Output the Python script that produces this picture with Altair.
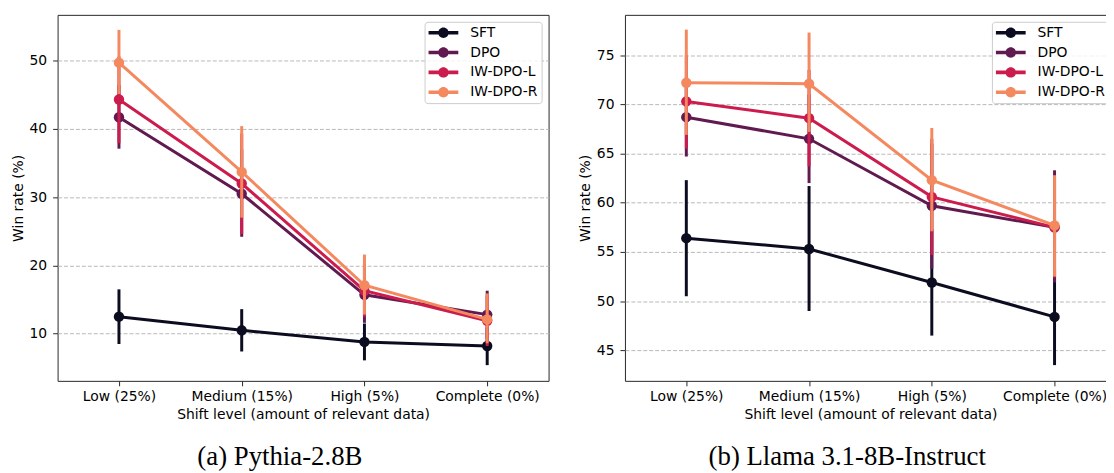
import altair as alt
import pandas as pd

categories = ["Low (25%)", "Medium (15%)", "High (5%)", "Complete (0%)"]
series = ["SFT", "DPO", "IW-DPO-L", "IW-DPO-R"]
colors = ["#0b0c20", "#611a4f", "#cc1c4e", "#f4895f"]

# (a) Pythia-2.8B : mean win rate and error bar ends
py_sft = [12.5, 10.5, 8.8, 8.2]
py_sft_lo = [8.5, 7.4, 6.1, 5.4]
py_sft_hi = [16.5, 13.6, 11.5, 10.9]
py_dpo = [41.7, 30.5, 15.7, 12.8]
py_dpo_lo = [37.1, 24.2, 11.6, 9.3]
py_dpo_hi = [46.4, 37.0, 19.8, 16.3]
py_l = [44.3, 32.0, 16.3, 11.9]
py_l_lo = [37.9, 24.6, 12.5, 8.2]
py_l_hi = [50.6, 39.3, 20.3, 15.6]
py_r = [49.7, 33.7, 17.1, 12.1]
py_r_lo = [45.1, 27.0, 12.8, 8.6]
py_r_hi = [54.5, 40.4, 21.6, 15.9]

# (b) Llama 3.1-8B-Instruct
ll_sft = [56.4, 55.3, 51.9, 48.4]
ll_sft_lo = [50.5, 49.0, 46.5, 43.5]
ll_sft_hi = [62.3, 61.7, 57.3, 53.3]
ll_dpo = [68.7, 66.5, 59.7, 57.5]
ll_dpo_lo = [64.7, 62.0, 53.3, 51.9]
ll_dpo_hi = [72.7, 71.0, 66.0, 63.3]
ll_l = [70.3, 68.6, 60.6, 57.5]
ll_l_lo = [65.5, 63.7, 54.7, 52.4]
ll_l_hi = [75.0, 73.5, 66.5, 62.6]
ll_r = [72.2, 72.1, 62.3, 57.7]
ll_r_lo = [66.9, 67.2, 57.1, 52.5]
ll_r_hi = [77.6, 77.3, 67.6, 62.8]

py_ticks = [10, 20, 30, 40, 50]
ll_ticks = [45, 50, 55, 60, 65, 70, 75]


def build_df(means, los, his):
    rows = []
    for s, m, lo, hi in zip(series, means, los, his):
        for i, c in enumerate(categories):
            rows.append({"series": s, "cat": c, "idx": i, "mean": m[i], "lo": lo[i], "hi": hi[i]})
    return pd.DataFrame(rows)


py_df = build_df([py_sft, py_dpo, py_l, py_r], [py_sft_lo, py_dpo_lo, py_l_lo, py_r_lo],
                 [py_sft_hi, py_dpo_hi, py_l_hi, py_r_hi])
ll_df = build_df([ll_sft, ll_dpo, ll_l, ll_r], [ll_sft_lo, ll_dpo_lo, ll_l_lo, ll_r_lo],
                 [ll_sft_hi, ll_dpo_hi, ll_l_hi, ll_r_hi])

LEGEND_PATH = ("M-3,-0.36H3V0.36H-3Z "
               "M-1.05,0A1.05,1.05,0,1,1,1.05,0A1.05,1.05,0,1,1,-1.05,0Z")


def panel(df, ydomain, yticks, caption):
    xenc = alt.X("cat:N",
                 scale=alt.Scale(type="point", domain=categories, padding=0.5),
                 axis=alt.Axis(title="Shift level (amount of relevant data)", labelAngle=0,
                               grid=False, labelPadding=4, titlePadding=4))
    yaxis = alt.Axis(title="Win rate (%)", values=yticks, grid=True, gridDash=[4, 2],
                     gridColor="#b8b8b8", gridWidth=1, labelPadding=6, titlePadding=4)
    yscale = alt.Scale(domain=ydomain, nice=False, zero=False)
    cscale = alt.Scale(domain=series, range=colors)
    legend = alt.Legend(title=None, orient="top-right", offset=7, symbolType=LEGEND_PATH,
                        symbolSize=100, symbolStrokeWidth=0, symbolOffset=8, labelOffset=20,
                        labelFontSize=14, labelFont="DejaVu Sans", labelColor="black",
                        rowPadding=6, padding=4, fillColor="rgba(255,255,255,0.8)",
                        strokeColor="#cccccc", cornerRadius=3, symbolOpacity=1)
    layers = []
    for s, col in zip(series, colors):
        base = alt.Chart(df).transform_filter(alt.datum.series == s)
        layers.append(base.mark_rule(strokeWidth=3, color=col).encode(
            x=xenc,
            y=alt.Y("lo:Q", scale=yscale, axis=yaxis),
            y2="hi:Q"))
        layers.append(base.mark_line(strokeWidth=3, color=col).encode(
            x=xenc,
            y=alt.Y("mean:Q", scale=yscale, axis=yaxis),
            order=alt.Order("idx:Q")))
        layers.append(base.mark_point(filled=True, size=110, opacity=1).encode(
            x=xenc,
            y=alt.Y("mean:Q", scale=yscale, axis=yaxis),
            color=alt.Color("series:N", scale=cscale, legend=legend)))
    return alt.layer(*layers).properties(
        width=495, height=369,
        title=alt.TitleParams(caption, orient="bottom", anchor="middle", frame="bounds",
                              offset=23))


left = panel(py_df, [3.1, 56.7], py_ticks, "(a) Pythia-2.8B")
right = panel(ll_df, [41.9, 79.1], ll_ticks, "(b) Llama 3.1-8B-Instruct")

chart = alt.hconcat(left, right, spacing=28).resolve_scale(
    color="independent"
).resolve_legend(
    color="independent"
).properties(
    padding={"left": 2, "top": 4, "right": -11, "bottom": 0}
).configure_view(
    stroke="#262626", strokeWidth=1
).configure_axis(
    labelFont="DejaVu Sans", titleFont="DejaVu Sans", labelFontSize=14, titleFontSize=14,
    titleFontWeight="normal", labelColor="black", titleColor="black",
    tickColor="#262626", tickSize=5, tickWidth=1, domain=False
).configure_title(
    font="Liberation Serif", fontSize=27, fontWeight="normal", color="black"
)

chart.save("out.html", embed_options={"renderer": "svg", "actions": False})
